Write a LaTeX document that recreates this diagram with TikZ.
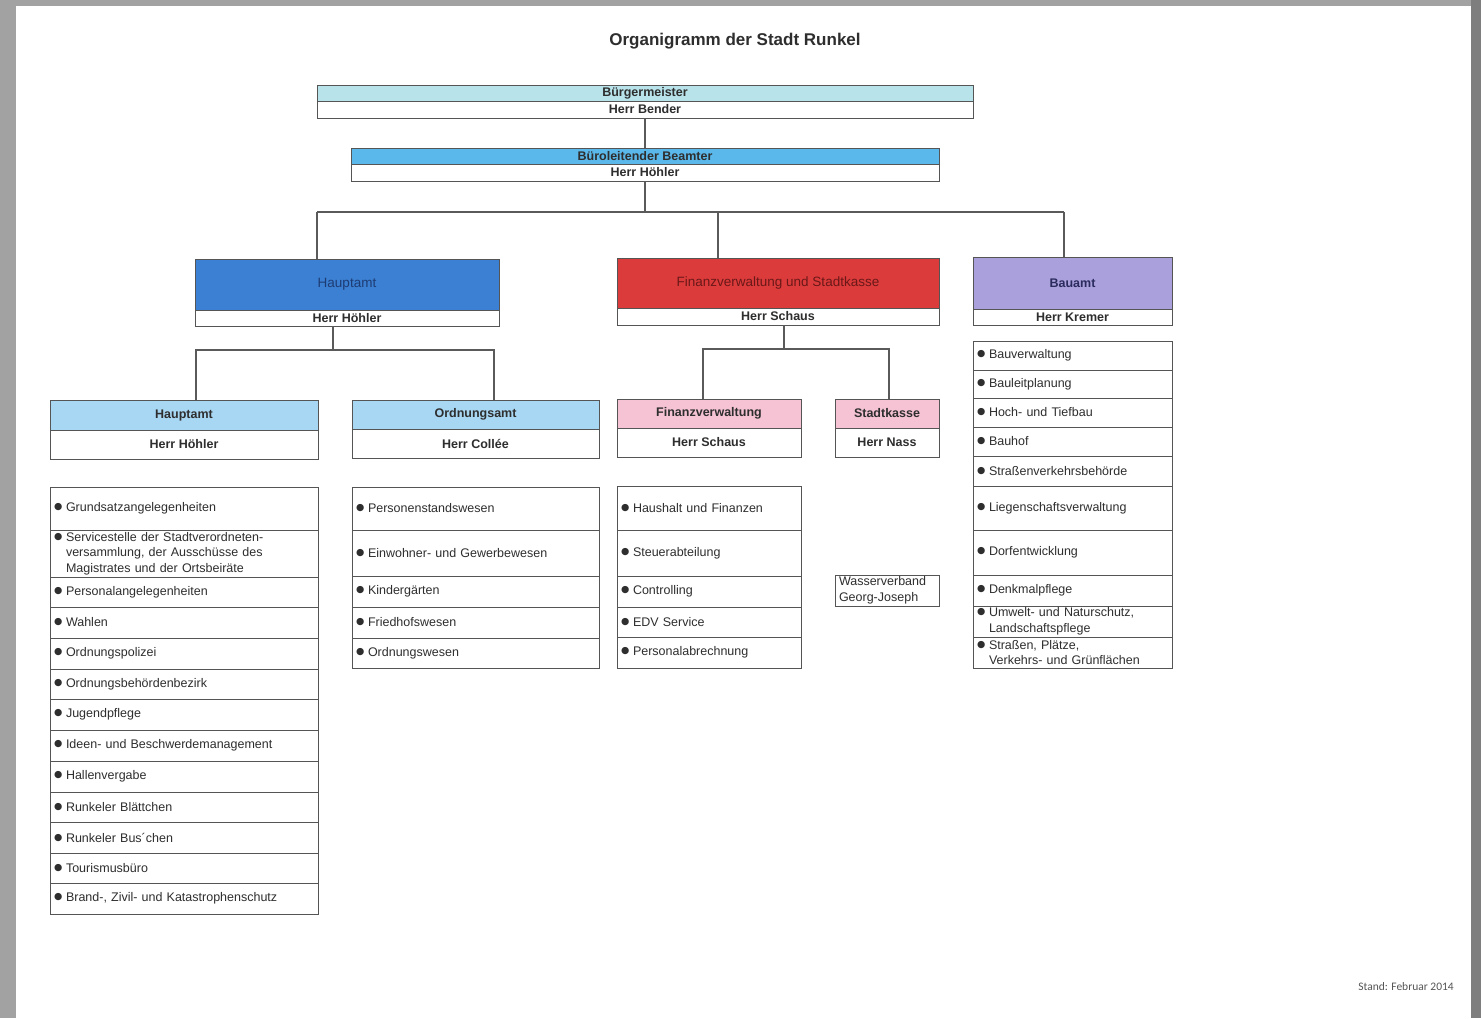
\documentclass[tikz,border=0pt]{standalone}
\usepackage{fontspec}
\setmainfont{Liberation Sans}
\newfontfamily\djv{DejaVu Sans}
\newfontfamily\carl{Carlito}
\definecolor{pagegrey}{HTML}{A2A2A2}
\definecolor{pagegreyr}{HTML}{7E7E7E}
\definecolor{boxc}{HTML}{555555}
\definecolor{linec}{HTML}{5A5A5A}
\definecolor{txtc}{HTML}{2E2E2E}
\definecolor{cyanl}{HTML}{B9E3EA}
\definecolor{bluem}{HTML}{5BB8EA}
\definecolor{blued}{HTML}{3B80D2}
\definecolor{redd}{HTML}{DC3B3B}
\definecolor{lav}{HTML}{A9A0DC}
\definecolor{bluel}{HTML}{A8D7F3}
\definecolor{pinkl}{HTML}{F5C3D3}
\definecolor{hatext}{HTML}{1E3C74}
\definecolor{fitext}{HTML}{6A1818}
\definecolor{batext}{HTML}{2B2B5E}
\definecolor{standc}{HTML}{555555}
\newcommand\bul{\makebox[12pt][l]{\raisebox{2pt}{\djv\fontsize{9.5}{9.5}\selectfont ●}}}
\newcommand\ind{\hspace*{12pt}}
\newcommand\hdr[7]{%
  \pgfmathsetmacro\cw{#3-#1}\pgfmathsetmacro\ch{#4-#2}%
  \pgfmathsetmacro\cx{(#1+#3)/2}\pgfmathsetmacro\cy{(#2+#4)/2}%
  \node[hcell, minimum width=\cw pt, minimum height=\ch pt, #6] (#5) at (\cx,\cy) {#7};}
\newcommand\lcell[6]{%
  \pgfmathsetmacro\cw{#3-#1}\pgfmathsetmacro\ch{#4-#2}\pgfmathsetmacro\tw{#3-#1-8}%
  \pgfmathsetmacro\cx{(#1+#3)/2}\pgfmathsetmacro\cy{(#2+#4)/2}%
  \node[lcellst, minimum width=\cw pt, minimum height=\ch pt, text width=\tw pt] (#5) at (\cx,\cy) {#6};}
\begin{document}
\begin{tikzpicture}[x=1pt,y=-1pt,
  boxst/.style={draw=boxc, line width=1pt, inner sep=0pt, outer sep=0pt, rectangle, text=txtc},
  hcell/.style={boxst, align=center, font=\bfseries\fontsize{12.5}{14}\selectfont},
  lcellst/.style={boxst, fill=white, align=left, inner xsep=4pt, inner ysep=0pt, font=\fontsize{12.5}{15.5}\selectfont},
  conn/.style={draw=linec, line width=1.1pt}]
\useasboundingbox (0,0) rectangle (1481,1018);
\fill[pagegrey] (0,0) rectangle (1481,1018);
\fill[pagegreyr] (1471,0) rectangle (1481,1018);
\fill[white] (16,6) rectangle (1471,1018);

\node[font=\bfseries\fontsize{17}{20}\selectfont, text=txtc] (title) at (735,41) {Organigramm der Stadt Runkel};

% top level
\hdr{317}{85}{973}{101}{bm-t}{fill=cyanl}{Bürgermeister}
\hdr{317}{101}{973}{118}{bm-b}{fill=white}{Herr Bender}
\hdr{351}{148}{939}{164}{bl-t}{fill=bluem}{Büroleitender Beamter}
\hdr{351}{164}{939}{181}{bl-b}{fill=white}{Herr Höhler}

% departments
\hdr{195}{259}{499}{310}{ha-t}{fill=blued, text=hatext, font=\fontsize{13.5}{16}\selectfont}{Hauptamt}
\hdr{195}{310}{499}{326}{ha-b}{fill=white}{Herr Höhler}
\hdr{617}{258}{939}{308}{fi-t}{fill=redd, text=fitext, font=\fontsize{13.5}{16}\selectfont}{Finanzverwaltung und Stadtkasse}
\hdr{617}{308}{939}{325}{fi-b}{fill=white}{Herr Schaus}
\hdr{973}{257}{1172}{309}{ba-t}{fill=lav, text=batext}{Bauamt}
\hdr{973}{309}{1172}{325}{ba-b}{fill=white}{Herr Kremer}

% sub units
\hdr{50}{400}{318}{430}{hu-t}{fill=bluel}{Hauptamt}
\hdr{50}{430}{318}{459}{hu-b}{fill=white}{Herr Höhler}
\hdr{352}{400}{599}{429}{oa-t}{fill=bluel}{Ordnungsamt}
\hdr{352}{429}{599}{458}{oa-b}{fill=white}{Herr Collée}
\hdr{617}{399}{801}{428}{fv-t}{fill=pinkl}{Finanzverwaltung}
\hdr{617}{428}{801}{457}{fv-b}{fill=white}{Herr Schaus}
\hdr{835}{399}{939}{428}{sk-t}{fill=pinkl}{Stadtkasse}
\hdr{835}{428}{939}{457}{sk-b}{fill=white}{Herr Nass}

% Hauptamt list
\lcell{50}{487}{318}{530}{h1}{\bul Grundsatzangelegenheiten}
\lcell{50}{530}{318}{577}{h2}{\bul Servicestelle der Stadtverordneten-\\\ind versammlung, der Ausschüsse des\\\ind Magistrates und der Ortsbeiräte}
\lcell{50}{577}{318}{607}{h3}{\bul Personalangelegenheiten}
\lcell{50}{607}{318}{638}{h4}{\bul Wahlen}
\lcell{50}{638}{318}{669}{h5}{\bul Ordnungspolizei}
\lcell{50}{669}{318}{699}{h6}{\bul Ordnungsbehördenbezirk}
\lcell{50}{699}{318}{730}{h7}{\bul Jugendpflege}
\lcell{50}{730}{318}{761}{h8}{\bul Ideen- und Beschwerdemanagement}
\lcell{50}{761}{318}{792}{h9}{\bul Hallenvergabe}
\lcell{50}{792}{318}{822}{h10}{\bul Runkeler Blättchen}
\lcell{50}{822}{318}{853}{h11}{\bul Runkeler Bus´chen}
\lcell{50}{853}{318}{883}{h12}{\bul Tourismusbüro}
\lcell{50}{883}{318}{914}{h13}{\bul Brand-, Zivil- und Katastrophenschutz}

% Ordnungsamt list
\lcell{352}{487}{599}{530}{o1}{\bul Personenstandswesen}
\lcell{352}{530}{599}{576}{o2}{\bul Einwohner- und Gewerbewesen}
\lcell{352}{576}{599}{607}{o3}{\bul Kindergärten}
\lcell{352}{607}{599}{638}{o4}{\bul Friedhofswesen}
\lcell{352}{638}{599}{668}{o5}{\bul Ordnungswesen}

% Finanzverwaltung list
\lcell{617}{486}{801}{530}{f1}{\bul Haushalt und Finanzen}
\lcell{617}{530}{801}{576}{f2}{\bul Steuerabteilung}
\lcell{617}{576}{801}{607}{f3}{\bul Controlling}
\lcell{617}{607}{801}{637}{f4}{\bul EDV Service}
\lcell{617}{637}{801}{668}{f5}{\bul Personalabrechnung}

% Stadtkasse
\lcell{835}{575}{939}{606}{wv}{Wasserverband\\Georg-Joseph}

% Bauamt list
\lcell{973}{341}{1172}{370}{b1}{\bul Bauverwaltung}
\lcell{973}{370}{1172}{398}{b2}{\bul Bauleitplanung}
\lcell{973}{398}{1172}{427}{b3}{\bul Hoch- und Tiefbau}
\lcell{973}{427}{1172}{456}{b4}{\bul Bauhof}
\lcell{973}{456}{1172}{486}{b5}{\bul Straßenverkehrsbehörde}
\lcell{973}{486}{1172}{530}{b6}{\bul Liegenschaftsverwaltung}
\lcell{973}{530}{1172}{575}{b7}{\bul Dorfentwicklung}
\lcell{973}{575}{1172}{606}{b8}{\bul Denkmalpflege}
\lcell{973}{606}{1172}{637}{b9}{\bul Umwelt- und Naturschutz,\\\ind Landschaftspflege}
\lcell{973}{637}{1172}{668}{b10}{\bul Straßen, Plätze,\\\ind Verkehrs- und Grünflächen}

% connectors
\coordinate (busL) at (317,212);
\coordinate (busM) at (718,212);
\coordinate (busR) at (1064,212);
\coordinate (hbL) at (196,350);
\coordinate (hbM) at (333,350);
\coordinate (hbR) at (494,350);
\coordinate (fbL) at (703,349);
\coordinate (fbM) at (784,349);
\coordinate (fbR) at (889,349);
\draw[conn] (bm-b.south) -- (bl-t.north);
\draw[conn] (bl-b.south) -- (bl-b.south |- busL);
\draw[conn] (busL) -- (busR);
\draw[conn] (busL) -- (busL |- ha-t.north);
\draw[conn] (busM) -- (busM |- fi-t.north);
\draw[conn] (busR) -- (busR |- ba-t.north);
\draw[conn] (hbM |- ha-b.south) -- (hbM);
\draw[conn] (hbL |- hu-t.north) -- (hbL) -- (hbR) -- (hbR |- oa-t.north);
\draw[conn] (fbM |- fi-b.south) -- (fbM);
\draw[conn] (fbL |- fv-t.north) -- (fbL) -- (fbR) -- (fbR |- sk-t.north);

\node[font=\carl\fontsize{11.5}{13}\selectfont, text=standc] (stand) at (1406,987) {Stand: Februar 2014};
\end{tikzpicture}
\end{document}
